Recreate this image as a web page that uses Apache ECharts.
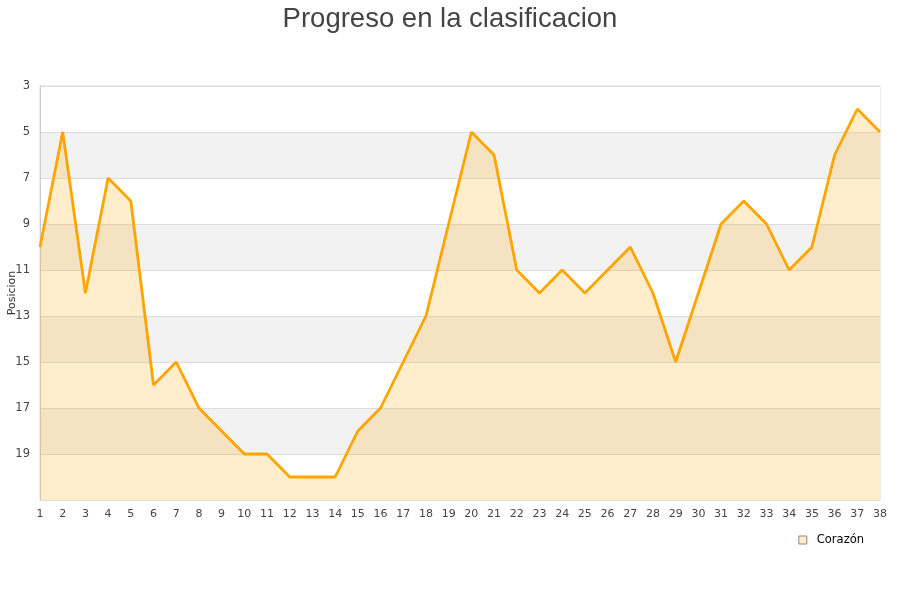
<!DOCTYPE html>
<html>
<head>
<meta charset="utf-8">
<script src="https://cdn.jsdelivr.net/npm/echarts@6/dist/echarts.min.js"></script>
<style>html,body{margin:0;padding:0;background:#fff}#c{width:900px;height:600px}</style>
</head>
<body>
<div id="c"></div>
<script>
var jornadas = ['1','2','3','4','5','6','7','8','9','10','11','12','13','14','15','16','17','18','19','20','21','22','23','24','25','26','27','28','29','30','31','32','33','34','35','36','37','38'];
var posiciones = [10,5,12,7,8,16,15,17,18,19,19,20,20,20,18,17,15,13,9,5,6,11,12,11,12,11,10,12,15,12,9,8,9,11,10,6,4,5];
var titulo = 'Progreso en la clasificacion';
var equipo = 'Corazón';
var ejeY = 'Posicion';

var chart = echarts.init(document.getElementById('c'));
chart.setOption({
  animation: false,
  backgroundColor: '#fff',
  title: {
    text: titulo,
    left: 'center',
    top: 0,
    textStyle: { fontFamily: 'Liberation Sans', fontSize: 27.5, fontWeight: 'normal', color: '#444' }
  },
  legend: {
    right: 31,
    top: 529,
    icon: 'rect',
    itemWidth: 8,
    itemHeight: 8,
    itemGap: 6,
    textStyle: { fontFamily: 'DejaVu Sans', fontSize: 11.5, color: '#000', padding: [0, 0, 0, 5] },
    data: [{ name: equipo, itemStyle: { color: '#ffedcc', borderColor: '#888', borderWidth: 1 } }]
  },
  grid: {
    left: 40, right: 20, top: 86, bottom: 100,
    show: true, borderColor: '#ddd', borderWidth: 1, containLabel: false, outerBoundsMode: 'none'
  },
  xAxis: {
    type: 'category',
    data: jornadas,
    boundaryGap: false,
    axisLine: { show: true, lineStyle: { color: '#ddd' } },
    axisTick: { show: false },
    axisLabel: { fontFamily: 'DejaVu Sans', fontSize: 11, color: '#444', margin: 9, interval: 0 },
    splitLine: { show: false }
  },
  yAxis: {
    type: 'value',
    inverse: true,
    min: 3,
    max: 21,
    interval: 2,
    name: ejeY,
    nameLocation: 'middle',
    nameGap: 22,
    nameMoveOverlap: false,
    nameTextStyle: { fontFamily: 'DejaVu Sans', fontSize: 11, color: '#333' },
    axisLine: { show: true, lineStyle: { color: '#ccc' } },
    axisTick: { show: false },
    axisLabel: { fontFamily: 'DejaVu Sans', fontSize: 11.5, color: '#444', margin: 10, showMaxLabel: false },
    splitLine: { show: true, lineStyle: { color: '#ddd' } },
    splitArea: { show: true, areaStyle: { color: ['#ffffff', '#f2f2f2'] } }
  },
  series: [{
    name: equipo,
    type: 'line',
    data: posiciones,
    symbol: 'none',
    lineStyle: { color: '#ffa500', width: 2.8 },
    itemStyle: { color: '#ffa500' },
    areaStyle: { color: 'rgba(255,165,0,0.2)', opacity: 1, origin: 'end' }
  }]
});
</script>
</body>
</html>
